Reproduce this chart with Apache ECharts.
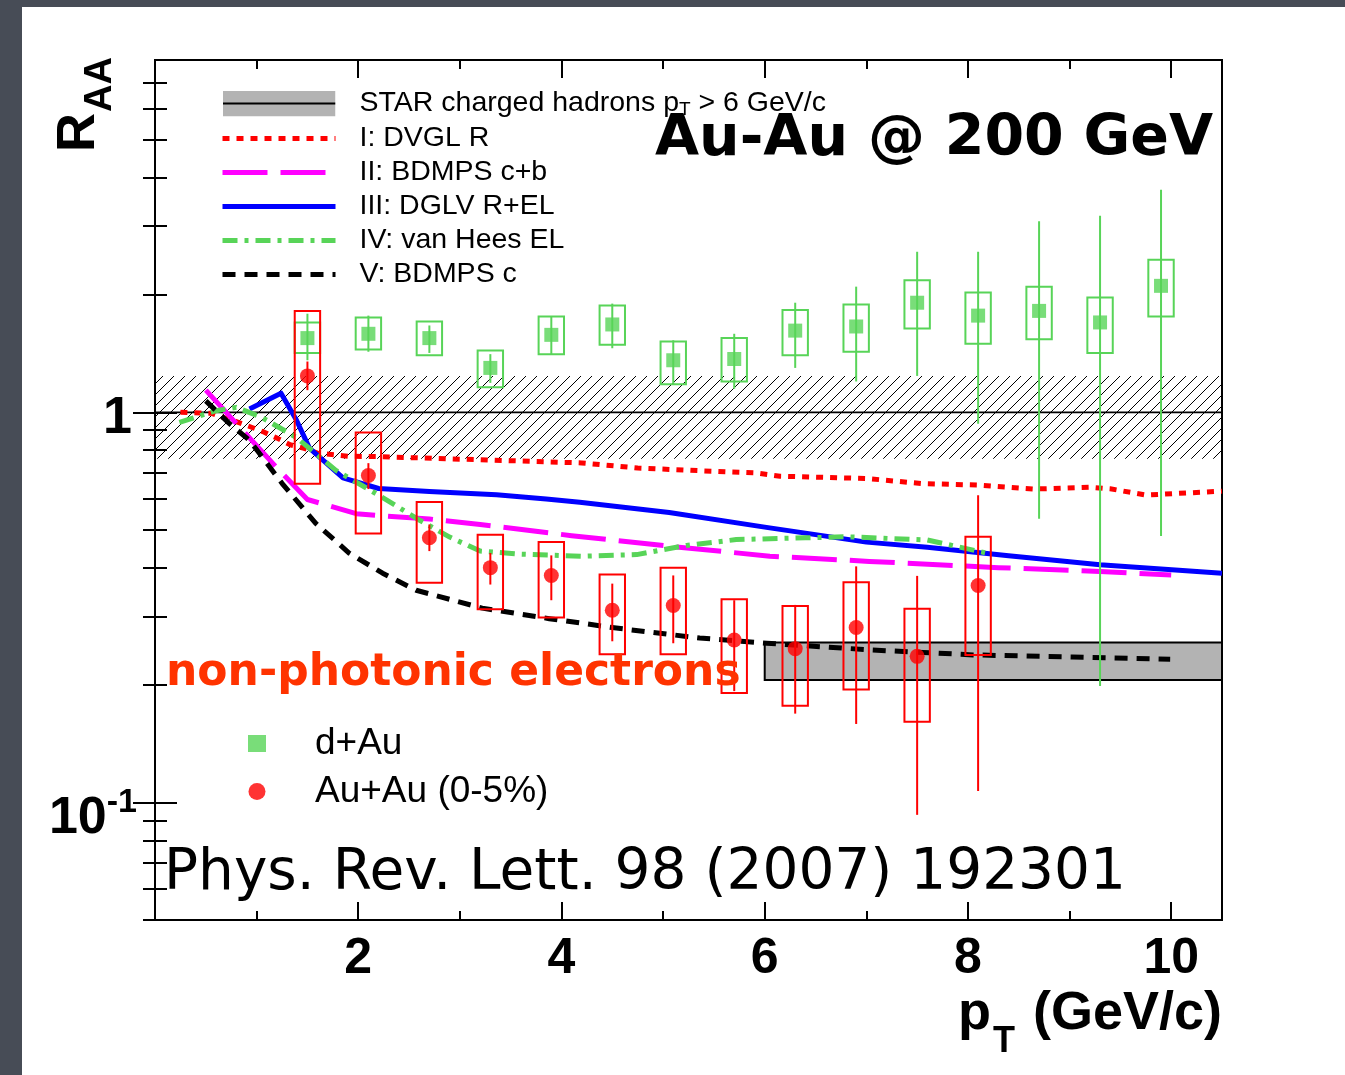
<!DOCTYPE html>
<html>
<head>
<meta charset="utf-8">
<script src="https://cdn.jsdelivr.net/npm/echarts@6/dist/echarts.min.js"></script>
<style>
  html, body { margin: 0; padding: 0; width: 1345px; height: 1075px; overflow: hidden; background: #474c56; }
  #panel { position: absolute; left: 22px; top: 7px; width: 1323px; height: 1068px; background: #ffffff; }
  #chart { position: absolute; left: 0; top: 0; width: 1345px; height: 1075px; }
</style>
</head>
<body>
<div id="panel"></div>
<div id="chart"></div>
<script>
// ---------------- data ----------------
// d+Au non-photonic electron R_dAu
const dAuPt     = [1.5, 2.1, 2.7, 3.3, 3.9, 4.5, 5.1, 5.7, 6.3, 6.9, 7.5, 8.1, 8.7, 9.3, 9.9];
const dAuRaa    = [1.55, 1.59, 1.55, 1.30, 1.58, 1.68, 1.36, 1.37, 1.62, 1.66, 1.91, 1.77, 1.82, 1.70, 2.11];
const dAuSysLo  = [1.42, 1.45, 1.40, 1.16, 1.41, 1.49, 1.18, 1.20, 1.40, 1.43, 1.64, 1.50, 1.54, 1.42, 1.76];
const dAuSysHi  = [1.70, 1.75, 1.71, 1.44, 1.76, 1.88, 1.52, 1.55, 1.83, 1.89, 2.18, 2.03, 2.10, 1.97, 2.46];
const dAuStatLo = [1.36, 1.43, 1.42, 1.19, 1.41, 1.46, 1.18, 1.15, 1.30, 1.20, 1.24, 0.935, 0.534, 0.199, 0.482];
const dAuStatHi = [1.79, 1.77, 1.67, 1.41, 1.76, 1.90, 1.53, 1.59, 1.91, 2.10, 2.58, 2.58, 3.09, 3.19, 3.72];

// Au+Au (0-5%) non-photonic electron R_AA
const auAuPt     = [1.5, 2.1, 2.7, 3.3, 3.9, 4.5, 5.1, 5.7, 6.3, 6.9, 7.5, 8.1];
const auAuRaa    = [1.24, 0.689, 0.477, 0.400, 0.382, 0.311, 0.320, 0.261, 0.248, 0.281, 0.237, 0.360];
const auAuSysLo  = [0.656, 0.489, 0.366, 0.313, 0.298, 0.240, 0.240, 0.191, 0.177, 0.195, 0.161, 0.239];
const auAuSysHi  = [1.82, 0.888, 0.589, 0.486, 0.465, 0.384, 0.400, 0.332, 0.319, 0.367, 0.314, 0.480];
const auAuStatLo = [1.14, 0.636, 0.441, 0.362, 0.330, 0.259, 0.256, 0.193, 0.169, 0.159, 0.093, 0.107];
const auAuStatHi = [1.35, 0.741, 0.516, 0.436, 0.430, 0.364, 0.382, 0.330, 0.321, 0.403, 0.381, 0.613];

// theory curves
const dvglPt  = [0.25, 0.55, 0.8, 0.93, 1.06, 1.2, 1.33, 1.46, 1.6, 1.9, 2.2, 3.2, 4.2, 4.75, 5.4, 5.9, 6.15, 7.0, 7.55, 8.1, 8.65, 9.2, 9.4, 9.75, 10.5];
const dvglRaa = [1.00, 0.995, 0.947, 0.92, 0.893, 0.859, 0.826, 0.81, 0.786, 0.772, 0.770, 0.756, 0.742, 0.720, 0.708, 0.700, 0.686, 0.677, 0.657, 0.651, 0.636, 0.643, 0.637, 0.614, 0.628];

const bdmpsCbPt  = [0.5, 0.8, 1.19, 1.5, 1.98, 2.2, 2.7, 3.2, 4.1, 5.06, 6.05, 7.03, 8.3, 9.3, 10.0];
const bdmpsCbRaa = [1.14, 0.937, 0.725, 0.598, 0.550, 0.544, 0.533, 0.516, 0.483, 0.454, 0.428, 0.415, 0.400, 0.391, 0.383];

const dglvPt  = [0.93, 1.24, 1.39, 1.52, 1.65, 1.85, 2.2, 2.7, 3.36, 3.85, 4.18, 5.06, 6.0, 7.0, 7.6, 8.4, 9.3, 10.5];
const dglvRaa = [1.02, 1.12, 0.957, 0.81, 0.756, 0.679, 0.638, 0.627, 0.615, 0.600, 0.588, 0.554, 0.508, 0.465, 0.451, 0.429, 0.407, 0.387];

const vanHeesPt  = [0.24, 0.6, 0.8, 1.05, 1.39, 1.78, 2.18, 2.6, 2.9, 3.2, 3.6, 4.2, 4.74, 5.23, 5.72, 6.4, 6.8, 7.6, 8.2];
const vanHeesRaa = [0.943, 1.01, 1.03, 0.971, 0.863, 0.71, 0.618, 0.53, 0.479, 0.441, 0.433, 0.428, 0.432, 0.456, 0.472, 0.477, 0.480, 0.471, 0.435];

const bdmpsCPt  = [0.5, 0.73, 0.93, 1.25, 1.58, 1.91, 2.24, 2.57, 3.22, 3.88, 4.54, 5.36, 6.02, 7.06, 8.05, 9.03, 9.99];
const bdmpsCRaa = [1.07, 0.937, 0.848, 0.658, 0.520, 0.436, 0.387, 0.350, 0.315, 0.296, 0.280, 0.264, 0.256, 0.246, 0.239, 0.236, 0.233];

// STAR charged hadrons (pT > 6 GeV/c) band and normalisation band around unity
const starBandPt  = [6, 10.5];
const starBandRaa = [0.206, 0.257];
const normBandPt  = [0, 10.5];
const normBandRaa = [0.76, 1.24];
const unityLine   = [1, 1];

// axis ticks
const xTickMajor = [2, 4, 6, 8, 10];
const xTickMinor = [1, 3, 5, 7, 9];
const yTickMajor = [0.1, 1];
const yTickMinor = [0.05, 0.06, 0.07, 0.08, 0.09, 0.2, 0.3, 0.4, 0.5, 0.6, 0.7, 0.8, 0.9, 2, 3, 4, 5, 6, 7];

// ---------------- styling ----------------
const SANS = '"Liberation Sans", Arial, Helvetica, sans-serif';
const HAND = '"DejaVu Sans", sans-serif';
const GREEN = '#58d458';
const RED = '#ff0000';
const BOX_HALF = 0.125;     // half width of systematic boxes in GeV/c

function hatchPattern() {
  const s = 11;
  const c = document.createElement('canvas');
  c.width = s; c.height = s;
  const g = c.getContext('2d');
  g.strokeStyle = '#000';
  g.lineWidth = 1;
  g.beginPath();
  g.moveTo(-1, s + 1); g.lineTo(s + 1, -1);
  g.moveTo(-1, 1); g.lineTo(1, -1);
  g.moveTo(s - 1, s + 1); g.lineTo(s + 1, s - 1);
  g.stroke();
  return c;
}
const hatch = hatchPattern();

const zip = (xs, ys) => xs.map((x, i) => [x, ys[i]]);
const triples = (xs, lo, hi) => xs.map((x, i) => [x, lo[i], hi[i]]);

function bandRenderer(fill, stroke, lineWidth) {
  return function (params, api) {
    const a = api.coord([api.value(0), api.value(3)]);
    const b = api.coord([api.value(1), api.value(2)]);
    return {
      type: 'rect',
      shape: { x: a[0], y: a[1], width: b[0] - a[0], height: b[1] - a[1] },
      style: { fill: fill, stroke: stroke, lineWidth: lineWidth }
    };
  };
}

function boxRenderer(color) {
  return function (params, api) {
    const x = api.value(0);
    const a = api.coord([x - BOX_HALF, api.value(2)]);
    const b = api.coord([x + BOX_HALF, api.value(1)]);
    return {
      type: 'rect',
      shape: { x: a[0], y: a[1], width: b[0] - a[0], height: b[1] - a[1] },
      style: { fill: 'none', stroke: color, lineWidth: 2 }
    };
  };
}

function barRenderer(color) {
  return function (params, api) {
    const x = api.value(0);
    const a = api.coord([x, api.value(1)]);
    const b = api.coord([x, api.value(2)]);
    return {
      type: 'line',
      shape: { x1: a[0], y1: a[1], x2: b[0], y2: b[1] },
      style: { stroke: color, lineWidth: 2 }
    };
  };
}

function curve(name, xs, ys, color, type) {
  return {
    name: name, type: 'line', data: zip(xs, ys),
    symbol: 'none', smooth: false, silent: true, z: 3,
    lineStyle: { color: color, width: 5, type: type, cap: 'butt', join: 'round' },
    itemStyle: { color: color }
  };
}

function xAx(position, ticks, len, withLabels) {
  return {
    type: 'value', min: 0, max: 10.5, position: position, gridIndex: 0,
    axisLine: { show: false }, splitLine: { show: false },
    axisTick: { show: true, inside: true, length: len, customValues: ticks, lineStyle: { color: '#000', width: 2 } },
    axisLabel: withLabels ? {
      show: true, customValues: xTickMajor, margin: 14, color: '#000',
      fontFamily: SANS, fontWeight: 'bold', fontSize: 50, formatter: v => String(Math.round(v))
    } : { show: false }
  };
}

function yAx(position, ticks, len, withLabels) {
  return {
    type: 'log', logBase: 10, min: 0.05, max: 8, position: position, gridIndex: 0,
    axisLine: { show: false }, splitLine: { show: false },
    axisTick: { show: true, inside: true, length: len, customValues: ticks, lineStyle: { color: '#000', width: 2 } },
    axisLabel: withLabels ? {
      show: true, customValues: yTickMajor, margin: 18, color: '#000',
      formatter: function (v) {
        const e = Math.round(Math.log10(v));
        return e === 0 ? '{one|1}' : '{b|10}{sup|' + e + '}';
      },
      rich: {
        one: { fontFamily: SANS, fontWeight: 'bold', fontSize: 52, lineHeight: 52, padding: [12, 5, 0, 0], color: '#000' },
        b:   { fontFamily: SANS, fontWeight: 'bold', fontSize: 52, lineHeight: 52, padding: [32, 0, 0, 0], color: '#000' },
        sup: { fontFamily: SANS, fontWeight: 'bold', fontSize: 34, lineHeight: 34, color: '#000' }
      }
    } : { show: false }
  };
}

const starIcon = 'image://data:image/svg+xml;charset=utf-8,' + encodeURIComponent(
  '<svg xmlns="http://www.w3.org/2000/svg" width="113" height="26">' +
  '<rect x="0" y="0" width="113" height="26" fill="#b3b3b3"/>' +
  '<line x1="0" y1="13" x2="113" y2="13" stroke="#000" stroke-width="2"/></svg>');

const STAR_NAME = 'STAR charged hadrons p_T > 6 GeV/c';
const lineOnly = { opacity: 0 };

const chart = echarts.init(document.getElementById('chart'), null, { renderer: 'canvas' });

chart.setOption({
  animation: false,
  backgroundColor: 'transparent',
  grid: { left: 155, top: 60, width: 1067, height: 860, show: true, borderColor: '#000', borderWidth: 2, backgroundColor: 'transparent' },
  xAxis: [
    xAx('bottom', xTickMajor, 18, true),
    xAx('bottom', xTickMinor, 9, false),
    xAx('top', xTickMajor, 18, false),
    xAx('top', xTickMinor, 9, false)
  ],
  yAxis: [
    yAx('left', yTickMajor, 22, true),
    yAx('left', yTickMinor, 12, false),
    yAx('right', yTickMajor, 22, false),
    yAx('right', yTickMinor, 12, false)
  ],
  legend: [
    {
      orient: 'vertical', left: 215, top: 83, itemWidth: 113, itemHeight: 26, itemGap: 5,
      selectedMode: false,
      lineStyle: { width: 'inherit' },
      data: [
        { name: STAR_NAME, icon: starIcon },
        { name: 'I: DVGL R', itemStyle: lineOnly },
        { name: 'II: BDMPS c+b', itemStyle: lineOnly },
        { name: 'III: DGLV R+EL', itemStyle: lineOnly },
        { name: 'IV: van Hees EL', itemStyle: lineOnly },
        { name: 'V: BDMPS c', itemStyle: lineOnly }
      ],
      formatter: function (name) {
        if (name === STAR_NAME) return '{t|STAR charged hadrons p}{sub|T}{t| > 6 GeV/c}';
        return '{t|' + name + '}';
      },
      textStyle: {
        padding: [0, 0, 0, 19],
        rich: {
          t:   { fontFamily: SANS, fontSize: 28.5, lineHeight: 30, color: '#000' },
          sub: { fontFamily: SANS, fontSize: 19, lineHeight: 19, padding: [12, 0, 0, 0], color: '#000' }
        }
      }
    },
    {
      orient: 'vertical', left: 243, top: 718, itemWidth: 18, itemHeight: 17, itemGap: 7,
      selectedMode: false,
      data: ['d+Au', 'Au+Au (0-5%)'],
      textStyle: { fontFamily: SANS, fontSize: 37, lineHeight: 41, color: '#000', padding: [0, 0, 0, 44] }
    }
  ],
  series: [
    {
      name: 'normalisation', type: 'custom', silent: true, z: 1,
      data: [[normBandPt[0], normBandPt[1], normBandRaa[0], normBandRaa[1]]],
      encode: { x: [0, 1], y: [2, 3] },
      renderItem: bandRenderer({ image: hatch, repeat: 'repeat' }, null, 0)
    },
    {
      name: 'unity', type: 'line', silent: true, symbol: 'none', z: 2,
      data: zip(normBandPt, unityLine),
      lineStyle: { color: '#000', width: 1.6 }
    },
    {
      name: STAR_NAME, type: 'custom', silent: true, z: 2,
      data: [[starBandPt[0], starBandPt[1], starBandRaa[0], starBandRaa[1]]],
      encode: { x: [0, 1], y: [2, 3] },
      itemStyle: { color: '#b3b3b3' },
      renderItem: bandRenderer('#b3b3b3', '#000', 2)
    },
    curve('I: DVGL R', dvglPt, dvglRaa, '#ff0000', [7, 7]),
    curve('II: BDMPS c+b', bdmpsCbPt, bdmpsCbRaa, '#ff00ff', [45, 13]),
    curve('III: DGLV R+EL', dglvPt, dglvRaa, '#0000ff', 'solid'),
    curve('IV: van Hees EL', vanHeesPt, vanHeesRaa, '#58d458', [15, 7, 4, 7]),
    curve('V: BDMPS c', bdmpsCPt, bdmpsCRaa, '#000000', [13, 9]),
    {
      name: 'd+Au syst', type: 'custom', silent: true, z: 4,
      data: triples(dAuPt, dAuSysLo, dAuSysHi), encode: { x: 0, y: [1, 2] },
      renderItem: boxRenderer(GREEN)
    },
    {
      name: 'd+Au stat', type: 'custom', silent: true, z: 4,
      data: triples(dAuPt, dAuStatLo, dAuStatHi), encode: { x: 0, y: [1, 2] },
      renderItem: barRenderer(GREEN)
    },
    {
      name: 'd+Au', type: 'scatter', silent: true, z: 5,
      data: zip(dAuPt, dAuRaa), symbol: 'rect', symbolSize: 14,
      itemStyle: { color: GREEN }
    },
    {
      name: 'Au+Au syst', type: 'custom', silent: true, z: 4,
      data: triples(auAuPt, auAuSysLo, auAuSysHi), encode: { x: 0, y: [1, 2] },
      renderItem: boxRenderer(RED)
    },
    {
      name: 'Au+Au stat', type: 'custom', silent: true, z: 4,
      data: triples(auAuPt, auAuStatLo, auAuStatHi), encode: { x: 0, y: [1, 2] },
      renderItem: barRenderer(RED)
    },
    {
      name: 'Au+Au (0-5%)', type: 'scatter', silent: true, z: 5,
      data: zip(auAuPt, auAuRaa), symbol: 'circle', symbolSize: 15,
      itemStyle: { color: RED }
    }
  ],
  graphic: [
    // axis titles
    { type: 'text', x: 79, y: 152, rotation: Math.PI / 2, z: 10,
      style: { text: 'R', font: 'bold 54px ' + SANS, fill: '#000', align: 'left', verticalAlign: 'middle' } },
    { type: 'text', x: 101, y: 112, rotation: Math.PI / 2, z: 10,
      style: { text: 'AA', font: 'bold 38px ' + SANS, fill: '#000', align: 'left', verticalAlign: 'middle' } },
    { type: 'text', x: 958, y: 1014, z: 10,
      style: { text: 'p', font: 'bold 54px ' + SANS, fill: '#000', align: 'left', verticalAlign: 'middle' } },
    { type: 'text', x: 993, y: 1042, z: 10,
      style: { text: 'T', font: 'bold 36px ' + SANS, fill: '#000', align: 'left', verticalAlign: 'middle' } },
    { type: 'text', x: 1222, y: 1014, z: 10,
      style: { text: '(GeV/c)', font: 'bold 54px ' + SANS, fill: '#000', align: 'right', verticalAlign: 'middle' } },
    // annotations
    { type: 'text', x: 655, y: 140, z: 10,
      style: { text: 'Au-Au @ 200 GeV', font: 'bold 57px ' + HAND, fill: '#000', align: 'left', verticalAlign: 'middle' } },
    { type: 'text', x: 166, y: 674, z: 10,
      style: { text: 'non-photonic electrons', font: 'bold 44px ' + HAND, fill: '#ff3300', align: 'left', verticalAlign: 'middle' } },
    { type: 'text', x: 164, y: 874, z: 10,
      style: { text: 'Phys. Rev. Lett. 98 (2007) 192301', font: '56.5px ' + HAND, fill: '#000', align: 'left', verticalAlign: 'middle' } }
  ]
});
</script>
</body>
</html>
